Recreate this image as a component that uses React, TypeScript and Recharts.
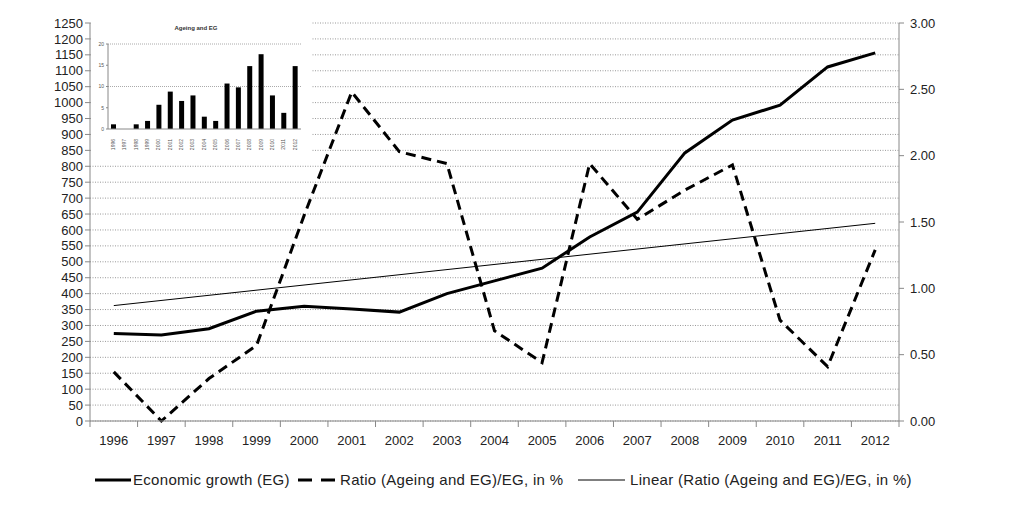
import React from "react";
import { ComposedChart, BarChart, Bar, Line, XAxis, YAxis, CartesianGrid } from "recharts";

const years = ["1996", "1997", "1998", "1999", "2000", "2001", "2002", "2003", "2004", "2005", "2006", "2007", "2008", "2009", "2010", "2011", "2012"];
const economicGrowth = [275, 270, 290, 345, 360, 352, 342, 400, 440, 480, 578, 656, 842, 945, 992, 1112, 1156];
const ratio = [0.37, 0.0, 0.32, 0.57, 1.55, 2.48, 2.03, 1.94, 0.68, 0.44, 1.94, 1.52, 1.74, 1.93, 0.76, 0.41, 1.29];
// trend line endpoints; nulls are bridged with connectNulls
const trend = [0.87, null, null, null, null, null, null, null, null, null, null, null, null, null, null, null, 1.49];
const ageingEG = [1.1, 0, 1.1, 1.9, 5.7, 8.8, 6.6, 7.9, 2.9, 1.9, 10.7, 9.8, 14.8, 17.6, 7.9, 3.8, 14.8];

const leftTicks = Array.from({ length: 26 }, (_, i) => i * 50);
const rightTicks = [0, 0.5, 1, 1.5, 2, 2.5, 3];
const insetTicks = [0, 5, 10, 15, 20];

const data = years.map((y, i) => ({ year: y, eg: economicGrowth[i], ratio: ratio[i], trend: trend[i] }));
const insetData = years.map((y, i) => ({ year: y, v: ageingEG[i] }));

const FONT = "'Liberation Sans', Arial, sans-serif";
const TXT = "#222";
const AXIS = "#888";

const PLOT_LEFT = 90;
const PLOT_RIGHT = 899;
const BAND = (PLOT_RIGHT - PLOT_LEFT) / years.length;

const XTick = (props: any) => {
  const { x, y, payload, index } = props;
  const half = BAND / 2;
  return (
    <g>
      <line x1={x - half} x2={x - half} y1={y} y2={y + 6} stroke={AXIS} />
      {index === years.length - 1 && <line x1={x + half} x2={x + half} y1={y} y2={y + 6} stroke={AXIS} />}
      <text x={x} y={y + 24} textAnchor="middle" fontSize={13} fill={TXT} fontFamily={FONT}>
        {payload.value}
      </text>
    </g>
  );
};

const InsetXTick = (props: any) => {
  const { x, y, payload } = props;
  return (
    <text x={x} y={y + 2} transform={`rotate(-90 ${x} ${y + 2})`} textAnchor="end" dominantBaseline="middle" fontSize={5} fill="#555" fontFamily={FONT}>
      {payload.value}
    </text>
  );
};

const LegendItem = ({ left, w, width, dash, textLeft, label }: { left: number; w: number; width: number; dash?: string; textLeft: number; label: string }) => (
  <>
    <svg width={w} height={10} style={{ position: "absolute", left, top: 4 }}>
      <line x1={0} x2={w} y1={5} y2={5} stroke="#000" strokeWidth={width} strokeDasharray={dash} />
    </svg>
    <span style={{ position: "absolute", left: textLeft, top: 0, whiteSpace: "nowrap" }}>{label}</span>
  </>
);

export default function App() {
  return (
    <div style={{ position: "absolute", left: 0, top: 0, width: 1024, height: 515, background: "#fff" }}>
      <ComposedChart width={1024} height={515} data={data} margin={{ top: 23, right: 60, bottom: 64, left: 0 }}>
        <CartesianGrid yAxisId="left" vertical={false} horizontal stroke="#999" strokeDasharray="1 1.5" />
        <XAxis
          dataKey="year"
          scale="band"
          stroke={AXIS}
          tickLine={false}
          tickSize={0}
          tickMargin={0}
          height={30}
          interval={0}
          tick={<XTick />}
        />
        <YAxis
          yAxisId="left"
          width={90}
          domain={[0, 1250]}
          ticks={leftTicks}
          interval={0}
          stroke={AXIS}
          tickSize={5}
          tick={{ fill: TXT, fontSize: 13, fontFamily: FONT }}
        />
        <YAxis
          yAxisId="right"
          orientation="right"
          width={65}
          domain={[0, 3]}
          ticks={rightTicks}
          interval={0}
          stroke={AXIS}
          tickSize={5}
          tickMargin={6}
          tickFormatter={(v: number) => v.toFixed(2)}
          tick={{ fill: TXT, fontSize: 13, fontFamily: FONT }}
        />
        <Line yAxisId="left" dataKey="eg" stroke="#000" strokeWidth={3} dot={false} isAnimationActive={false} />
        <Line yAxisId="right" dataKey="ratio" stroke="#000" strokeWidth={3} strokeDasharray="10 6" dot={false} isAnimationActive={false} />
        <Line yAxisId="right" dataKey="trend" stroke="#000" strokeWidth={1} connectNulls dot={false} isAnimationActive={false} />
      </ComposedChart>

      <div style={{ position: "absolute", left: 91, top: 15, width: 220, height: 142, background: "#fff" }}>
        <div style={{ position: "absolute", left: 0, width: 210, top: 10, textAlign: "center", fontSize: 6, fontWeight: "bold", fontFamily: FONT, color: "#333" }}>
          Ageing and EG
        </div>
        <BarChart width={220} height={142} data={insetData} margin={{ top: 29, right: 10, bottom: 0, left: 0 }} barSize={5}>
          <CartesianGrid vertical={false} stroke="#aaa" strokeDasharray="1 1" horizontalValues={[10, 20]} />
          <XAxis dataKey="year" stroke="#888" tickLine={false} interval={0} height={28} tick={<InsetXTick />} />
          <YAxis width={17} domain={[0, 20]} ticks={insetTicks} interval={0} stroke="#888" tickSize={2} tick={{ fill: "#555", fontSize: 5, fontFamily: FONT }} />
          <Bar dataKey="v" fill="#000" isAnimationActive={false} />
        </BarChart>
      </div>

      <div style={{ position: "absolute", top: 471, left: 0, width: 1024, height: 20, fontFamily: FONT, fontSize: 15, letterSpacing: 0.3, color: TXT }}>
        <LegendItem left={95} w={36} width={3} textLeft={133} label="Economic growth (EG)" />
        <LegendItem left={298} w={37} width={3} dash="14 9" textLeft={340} label="Ratio (Ageing and EG)/EG, in %" />
        <LegendItem left={578} w={47} width={1} textLeft={630} label="Linear (Ratio (Ageing and EG)/EG, in %)" />
      </div>
    </div>
  );
}
